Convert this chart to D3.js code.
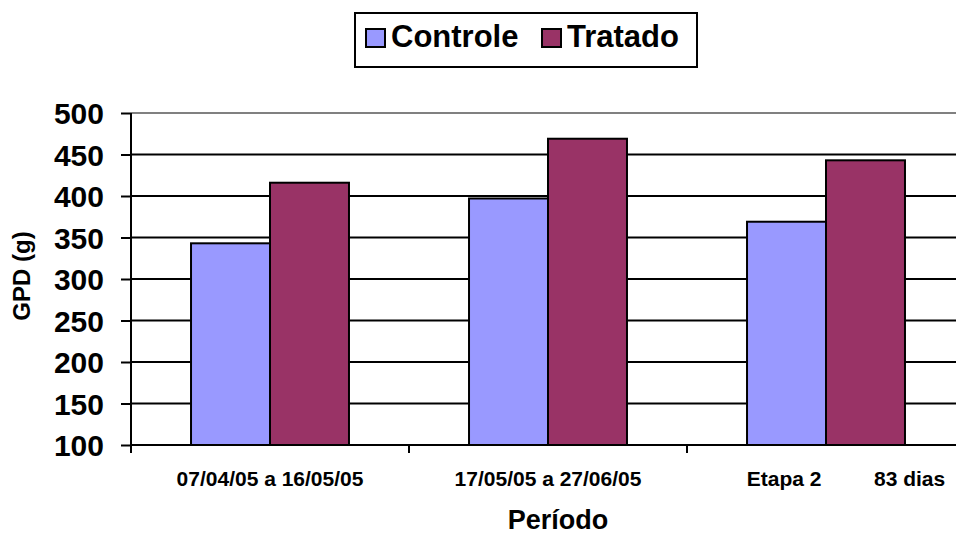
<!DOCTYPE html>
<html lang="pt">
<head>
<meta charset="UTF-8">
<title>GPD por período</title>
<script src="https://d3js.org/d3.v7.min.js"></script>
<style>
  body { margin: 0; background: #fff; }
  svg { display: block; font-family: "Liberation Sans", Arial, sans-serif; font-weight: bold; }
</style>
</head>
<body>
<div id="chart"></div>
<script>
// chart data
const categories = ["07/04/05 a 16/05/05", "17/05/05 a 27/06/05", "Etapa 2         83 dias"];
const seriesNames = ["Controle", "Tratado"];
const controle = [343, 397, 369];
const tratado = [416, 469, 443];
const yTicks = [100, 150, 200, 250, 300, 350, 400, 450, 500];

const colors = { Controle: "#9999ff", Tratado: "#993366" };
const values = { Controle: controle, Tratado: tratado };

const W = 956, H = 537;
const plot = { left: 131, right: 965, top: 113, bottom: 445 };

const svg = d3.select("#chart").append("svg")
    .attr("width", W).attr("height", H);

const x0 = d3.scaleBand().domain(categories).range([plot.left, plot.right]).padding(0);
const x1 = d3.scaleBand().domain(seriesNames).range([0, x0.bandwidth()])
    .paddingInner(0).paddingOuter(0.76);
const y = d3.scaleLinear().domain([100, 500]).range([plot.bottom, plot.top]);

// gridlines
svg.append("g")
  .selectAll("line")
  .data(yTicks.slice(1))
  .join("line")
    .attr("x1", plot.left).attr("x2", W)
    .attr("y1", d => y(d)).attr("y2", d => y(d))
    .attr("stroke", d => d === 500 ? "#808080" : "#000")
    .attr("stroke-width", 2);

// bars
categories.forEach((c, i) => {
  seriesNames.forEach(s => {
    svg.append("rect")
      .attr("x", x0(c) + x1(s))
      .attr("y", y(values[s][i]))
      .attr("width", x1.bandwidth())
      .attr("height", plot.bottom - y(values[s][i]))
      .attr("fill", colors[s])
      .attr("stroke", "#000")
      .attr("stroke-width", 2);
  });
});

// y axis
const yAxis = svg.append("g")
    .attr("transform", `translate(${plot.left},0)`)
    .call(d3.axisLeft(y).tickValues(yTicks).tickSize(10).tickPadding(17));
yAxis.select(".domain").remove();
yAxis.selectAll("line").attr("stroke", "#000").attr("stroke-width", 2);
yAxis.selectAll("text")
    .attr("font-size", 30).attr("font-family", "Liberation Sans, Arial, sans-serif")
    .attr("font-weight", "bold").attr("fill", "#000").attr("dy", "0.36em");
svg.append("line")
    .attr("x1", plot.left).attr("x2", plot.left).attr("y1", plot.top).attr("y2", plot.bottom + 8)
    .attr("stroke", "#000").attr("stroke-width", 2);

// x axis
svg.append("line")
    .attr("x1", plot.left).attr("x2", W).attr("y1", plot.bottom).attr("y2", plot.bottom)
    .attr("stroke", "#000").attr("stroke-width", 2);
svg.append("g")
  .selectAll("line")
  .data(categories.slice(1))
  .join("line")
    .attr("x1", d => x0(d)).attr("x2", d => x0(d))
    .attr("y1", plot.bottom).attr("y2", plot.bottom + 8)
    .attr("stroke", "#000").attr("stroke-width", 2);

svg.append("g")
  .selectAll("text")
  .data(categories)
  .join("text")
    .attr("x", (d, i) => x0(d) + x0.bandwidth() / 2 + (i === 2 ? 20 : 0))
    .attr("y", 486)
    .attr("text-anchor", "middle")
    .attr("font-size", 21)
    .style("white-space", "pre")
    .text(d => d);

// axis titles
svg.append("text")
    .attr("x", 558).attr("y", 529)
    .attr("text-anchor", "middle")
    .attr("font-size", 27)
    .text("Período");
svg.append("text")
    .attr("transform", "translate(30,276) rotate(-90)")
    .attr("text-anchor", "middle")
    .attr("font-size", 24)
    .text("GPD (g)");

// legend
const legend = svg.append("g");
legend.append("rect")
    .attr("x", 355).attr("y", 13).attr("width", 342).attr("height", 54)
    .attr("fill", "#fff").attr("stroke", "#000").attr("stroke-width", 2);
const legendX = [366, 542];
seriesNames.forEach((s, i) => {
  legend.append("rect")
      .attr("x", legendX[i]).attr("y", 29).attr("width", 19).attr("height", 18)
      .attr("fill", colors[s]).attr("stroke", "#000").attr("stroke-width", 2);
  legend.append("text")
      .attr("x", legendX[i] + 25).attr("y", 47)
      .attr("font-size", 31)
      .text(s);
});
</script>
</body>
</html>
